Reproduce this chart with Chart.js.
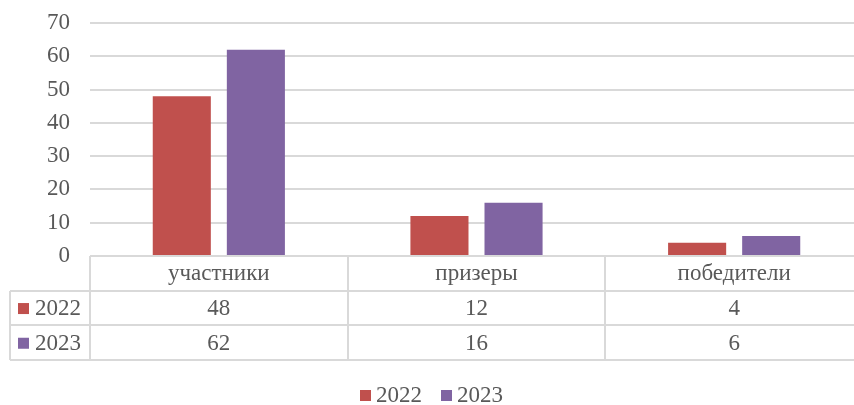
<!DOCTYPE html>
<html>
<head>
<meta charset="utf-8">
<script src="https://cdn.jsdelivr.net/npm/chart.js@4"></script>
<style>
html,body{margin:0;padding:0;background:#fff;overflow:hidden;}
#wrap{width:854px;height:405px;overflow:hidden;position:relative;}
#c{position:absolute;left:0;top:0;}
</style>
</head>
<body>
<div id="wrap"><canvas id="c" width="864" height="405"></canvas></div>
<script>
const categories = ["участники", "призеры", "победители"];
const seriesNames = ["2022", "2023"];
const values2022 = [48, 12, 4];
const values2023 = [62, 16, 6];
const seriesColors = ["#C0504D", "#8064A2"];
const yTicks = [0, 10, 20, 30, 40, 50, 60, 70];

const FONT = "'Liberation Serif', 'Times New Roman', serif";
const FSIZE = 23;
const TXT = "#595959";
const GRID = "#D9D9D9";

const tablePlugin = {
  id: 'dataTable',
  afterDraw(chart) {
    const ctx = chart.ctx;
    const xs = chart.scales.x;
    const area = chart.chartArea;
    const top = area.bottom;
    const rowH = 34.7;
    const leftCol = 10;
    const n = categories.length;
    const colW = (area.right - area.left) / n;
    ctx.save();
    ctx.strokeStyle = GRID;
    ctx.lineWidth = 2;
    ctx.beginPath();
    ctx.moveTo(area.left, top); ctx.lineTo(area.right, top);
    for (let r = 1; r <= 3; r++) {
      const y = Math.round(top + rowH * r);
      ctx.moveTo(leftCol, y); ctx.lineTo(area.right, y);
    }
    ctx.moveTo(leftCol, Math.round(top + rowH)); ctx.lineTo(leftCol, Math.round(top + rowH * 3));
    for (let i = 0; i <= n; i++) {
      const x = Math.round(area.left + colW * i);
      ctx.moveTo(x, top); ctx.lineTo(x, Math.round(top + rowH * 3));
    }
    ctx.stroke();

    ctx.fillStyle = TXT;
    ctx.font = FSIZE + "px " + FONT;
    ctx.textAlign = 'center';
    ctx.textBaseline = 'middle';
    const rows = [values2022, values2023];
    for (let i = 0; i < n; i++) {
      const cx = xs.getPixelForValue(i);
      ctx.fillText(categories[i], cx, top + rowH * 0.5 + 1);
      for (let r = 0; r < rows.length; r++) {
        ctx.fillText(String(rows[r][i]), cx, top + rowH * (r + 1.5) + 1);
      }
    }
    ctx.textAlign = 'left';
    for (let r = 0; r < seriesNames.length; r++) {
      const cy = top + rowH * (r + 1.5);
      ctx.fillStyle = seriesColors[r];
      ctx.fillRect(18, cy - 5, 11, 11);
      ctx.fillStyle = TXT;
      ctx.fillText(seriesNames[r], 35, cy + 1);
    }

    // legend
    const ly = 395;
    const legendX = [360, 441];
    for (let r = 0; r < seriesNames.length; r++) {
      ctx.fillStyle = seriesColors[r];
      ctx.fillRect(legendX[r], ly - 5, 11, 11);
      ctx.fillStyle = TXT;
      ctx.fillText(seriesNames[r], legendX[r] + 16, ly + 1);
    }
    ctx.restore();
  }
};

new Chart(document.getElementById('c'), {
  type: 'bar',
  data: {
    labels: categories,
    datasets: [
      { label: seriesNames[0], data: values2022, backgroundColor: seriesColors[0] },
      { label: seriesNames[1], data: values2023, backgroundColor: seriesColors[1] }
    ]
  },
  options: {
    responsive: false,
    animation: false,
    devicePixelRatio: 1,
    categoryPercentage: 0.575,
    barPercentage: 0.784,
    layout: { padding: { top: 23, right: 1, left: 0, bottom: 0 } },
    plugins: {
      legend: { display: false },
      tooltip: { enabled: false }
    },
    scales: {
      x: {
        grid: { display: false },
        border: { display: false },
        ticks: { display: false },
        afterFit(scale) { scale.height = 149; scale.paddingLeft = 0; scale.paddingRight = 0; }
      },
      y: {
        min: 0, max: 70,
        afterBuildTicks(scale) { scale.ticks = yTicks.map(v => ({ value: v })); },
        afterFit(scale) { scale.width = 90; scale.paddingTop = 0; scale.paddingBottom = 0; },
        grid: { color: GRID, lineWidth: 2, drawTicks: false },
        border: { display: false },
        ticks: {
          color: TXT,
          font: { family: FONT, size: FSIZE },
          padding: 20
        }
      }
    }
  },
  plugins: [tablePlugin]
});
</script>
</body>
</html>
